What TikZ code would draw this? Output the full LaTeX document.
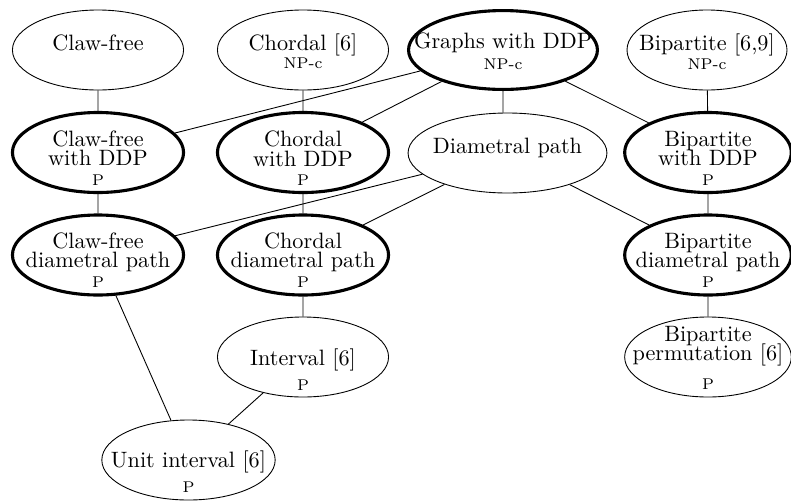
\documentclass[tikz,border=0pt]{standalone}
\usetikzlibrary{shapes.geometric}
\newcommand{\cl}[4]{%
	\makebox[0pt]{\raisebox{#1}[0pt][0pt]{\vtop{\let\\\cr\baselineskip=8.6pt\lineskiplimit=-20pt
		\halign{\hfil##\hfil\cr#2\crcr}}}}%
	\makebox[0pt]{\raisebox{-#4}[0pt][0pt]{\scriptsize #3}}}

\begin{document}
\begin{tikzpicture}[x=0.45pt,y=-0.45pt,
		cls/.style={ellipse,draw,inner sep=0pt,minimum width=77pt,minimum height=36pt},
		main/.style={line width=1.4pt}]
	\useasboundingbox (0,0) rectangle (791,500);
	\node[cls] (cf) at (98,50) {\cl{0pt}{Claw-free}{}{0pt}};
	\node[cls] (ch) at (303,50) {\cl{0pt}{Chordal [6]}{NP-c}{8.5pt}};
	\node[cls,main,minimum width=85pt,minimum height=35.5pt] (g) at (503,50) {\cl{0.9pt}{Graphs with DDP}{NP-c}{8.8pt}};
	\node[cls,minimum width=72pt] (bi) at (707,50) {\cl{0pt}{Bipartite [6,9]}{NP-c}{8.8pt}};

	\node[cls,main] (cfd) at (98,152.5) {\cl{2.9pt}{Claw-free\\with DDP}{P}{14.7pt}};
	\node[cls,main] (chd) at (303,152.5) {\cl{2.5pt}{Chordal\\with DDP}{P}{14.7pt}};
	\node[cls,minimum width=89.5pt] (dp) at (507.5,153) {\cl{0pt}{Diametral path}{}{0pt}};
	\node[cls,main,minimum width=75pt] (bid) at (708,152.5) {\cl{2.9pt}{Bipartite\\with DDP}{P}{14.7pt}};

	\node[cls,main] (cfdp) at (98,255) {\cl{3.1pt}{Claw-free\\diametral path}{P}{14.5pt}};
	\node[cls,main] (chdp) at (303,255) {\cl{3.1pt}{Chordal\\diametral path}{P}{14.5pt}};
	\node[cls,main,minimum width=75pt] (bidp) at (708,255) {\cl{3.1pt}{Bipartite\\diametral path}{P}{14.5pt}};

	\node[cls] (int) at (303,357) {\cl{-3.6pt}{Interval [6]}{P}{15pt}};
	\node[cls,minimum width=75pt] (bip) at (708,357) {\cl{7pt}{Bipartite\\permutation [6]}{P}{14.5pt}};
	\node[cls,minimum width=78pt] (ui) at (188.5,460) {\cl{-3.2pt}{Unit interval [6]}{P}{14.5pt}};

	\draw (cf) -- (cfd) -- (cfdp) -- (ui) -- (int) -- (chdp) -- (chd) -- (ch);
	\draw (bi) -- (bid) -- (bidp) -- (bip);
	\draw (g) -- (cfd) (g) -- (chd) (g) -- (bid) (g) -- (g |- dp.north);
	\draw (dp) -- (cfdp) (dp) -- (chdp) (dp) -- (bidp);
\end{tikzpicture}
\end{document}
